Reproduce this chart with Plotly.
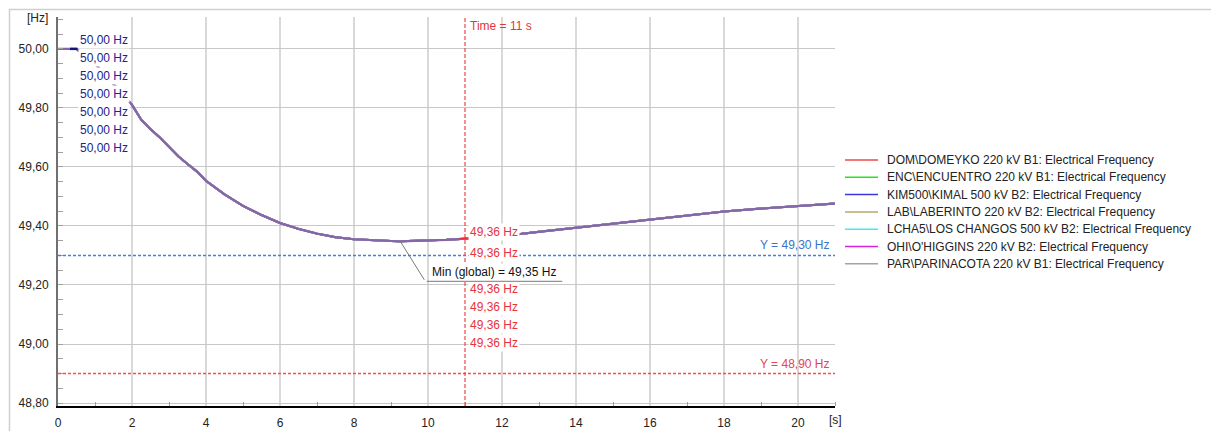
import numpy as np
import plotly.graph_objects as go

# Frequency response after the disturbance (same trace for every bus)
time_s = [0.0, 0.5, 1.0, 1.5, 2.0, 2.25, 2.5, 2.75, 3.0, 3.25, 3.5, 3.75, 4.0, 4.5,
          5.0, 5.5, 6.0, 6.5, 7.0, 7.5, 8.0, 8.5, 9.0, 9.25, 9.5, 10.0, 10.5, 11.0,
          11.5, 12.0, 12.5, 13.0, 14.0, 15.0, 16.0, 17.0, 18.0, 19.0, 20.0, 21.0]
freq_hz = [50.000, 50.000, 49.950, 49.880, 49.810, 49.760, 49.728, 49.700, 49.668,
           49.636, 49.610, 49.585, 49.553, 49.507, 49.468, 49.437, 49.410, 49.390,
           49.374, 49.362, 49.355, 49.351, 49.349, 49.348, 49.349, 49.350, 49.353,
           49.357, 49.362, 49.367, 49.373, 49.380, 49.394, 49.409, 49.423, 49.437,
           49.449, 49.459, 49.468, 49.476]

stations = [
    "DOM\\DOMEYKO 220 kV B1",
    "ENC\\ENCUENTRO 220 kV B1",
    "KIM500\\KIMAL 500 kV B2",
    "LAB\\LABERINTO 220 kV B2",
    "LCHA5\\LOS CHANGOS 500 kV B2",
    "OHI\\O'HIGGINS 220 kV B2",
    "PAR\\PARINACOTA 220 kV B1",
]
station_colors = ["#f04848", "#22e622", "#3838e0", "#b4ac6c", "#3ceef0", "#e020e0", "#a4a4a4"]
station_freq = {name: freq_hz for name in stations}

x_ticks = [0, 2, 4, 6, 8, 10, 12, 14, 16, 18, 20]
y_ticks = [48.8, 49.0, 49.2, 49.4, 49.6, 49.8, 50.0]
cursor_times = [0.0, 11.0]
limit_levels = [49.30, 48.90]

FONT = "Liberation Sans, Arial, sans-serif"
W, H = 1211, 431
ML, MR, MT, MB = 58, 376, 17, 25
X_RANGE = [0, 21]
Y_RANGE = [48.79, 50.108]
PW = W - ML - MR
PH = H - MT - MB


def fmt(v):
    return f"{v:.2f}".replace(".", ",")


def px_to_paper_x(px):
    return (px - ML) / PW


def px_to_paper_y(py):
    return (H - MB - py) / PH


sec_per_px = (X_RANGE[1] - X_RANGE[0]) / PW
hz_per_px = (Y_RANGE[1] - Y_RANGE[0]) / PH

fig = go.Figure()

for name, color in zip(stations, station_colors):
    fig.add_trace(go.Scatter(
        x=time_s, y=station_freq[name], mode="lines",
        name=f"{name}: Electrical Frequency", showlegend=False,
        line=dict(color=color, width=2),
    ))

# overlapping curves render as one blended line
fig.add_trace(go.Scatter(
    x=time_s, y=freq_hz, mode="lines", showlegend=False,
    line=dict(color="#8467a8", width=2.2), hoverinfo="skip",
))

shapes = []
annotations = []

# outer frame (top and left edges)
shapes.append(dict(type="line", xref="paper", yref="paper",
                   x0=px_to_paper_x(9), x1=px_to_paper_x(W), y0=px_to_paper_y(9.5), y1=px_to_paper_y(9.5),
                   line=dict(color="#d0d0d0", width=1.5)))
shapes.append(dict(type="line", xref="paper", yref="paper",
                   x0=px_to_paper_x(9.5), x1=px_to_paper_x(9.5), y0=px_to_paper_y(9), y1=px_to_paper_y(H),
                   line=dict(color="#d0d0d0", width=1.5)))

# legend: line sample + label per station
LEG_X0, LEG_Y0, LEG_DY = 845, 160, 17.3
for i, (name, color) in enumerate(zip(stations, station_colors)):
    yy = px_to_paper_y(LEG_Y0 + LEG_DY * i)
    shapes.append(dict(type="line", xref="paper", yref="paper",
                       x0=px_to_paper_x(LEG_X0), x1=px_to_paper_x(LEG_X0 + 33), y0=yy, y1=yy,
                       line=dict(color=color, width=1.5)))
    annotations.append(dict(x=px_to_paper_x(LEG_X0 + 40), y=yy, xref="paper", yref="paper",
                            showarrow=False, text=f"{name}: Electrical Frequency",
                            xanchor="left", yanchor="middle",
                            font=dict(family=FONT, size=12, color="#222222")))

# limit lines
limit_styles = [("#3f80e0", "#3a74c4"), ("#ff4a4a", "#e8434a")]
for level, (lc, tc) in zip(limit_levels, limit_styles):
    shapes.append(dict(type="line", xref="x", yref="y", x0=X_RANGE[0], x1=X_RANGE[1],
                       y0=level, y1=level, line=dict(color=lc, width=1.4, dash="3px,2px")))
    annotations.append(dict(x=X_RANGE[1], y=level, xref="x", yref="y", showarrow=False,
                            text=f"Y = {fmt(level)} Hz", xanchor="right", yanchor="bottom",
                            xshift=-3, yshift=1, font=dict(family=FONT, size=12, color=tc)))

# cursor at t = 11 s
t_cur = cursor_times[1]
shapes.append(dict(type="line", xref="x", yref="paper", x0=t_cur, x1=t_cur, y0=0, y1=1,
                   line=dict(color="#e84a4a", width=1.2, dash="4px,2px")))
annotations.append(dict(x=t_cur, y=1, xref="x", yref="paper", showarrow=False,
                        text=f"Time = {t_cur:g} s", xanchor="left", yanchor="top",
                        xshift=3, yshift=0, font=dict(family=FONT, size=12, color="#e8333c")))

v_cur = float(np.interp(t_cur, time_s, freq_hz))
shapes.append(dict(type="line", xref="x", yref="y",
                   x0=t_cur - 6 * sec_per_px, x1=t_cur + 7 * sec_per_px, y0=v_cur, y1=v_cur,
                   line=dict(color="#e8333c", width=1.5)))

v0 = float(np.interp(cursor_times[0], time_s, freq_hz))
shapes.append(dict(type="line", xref="x", yref="y",
                   x0=cursor_times[0] + 12 * sec_per_px, x1=cursor_times[0] + 19.5 * sec_per_px,
                   y0=v0, y1=v0, line=dict(color="#141480", width=2.4)))

# value labels at the t = 0 cursor
for i, name in enumerate(stations):
    v = float(np.interp(cursor_times[0], time_s, station_freq[name]))
    annotations.append(dict(x=cursor_times[0], y=v, xref="x", yref="y", showarrow=False,
                            text=f"{fmt(v)} Hz", xanchor="left", yanchor="middle",
                            xshift=20, yshift=9 - 18 * i, bgcolor="white", borderpad=1,
                            font=dict(family=FONT, size=12, color="#22228c")))

# value labels at the t = 11 s cursor (third one sits under the minimum box)
cur_shifts = [7, -14, None, -50, -68, -86, -104]
for name, ys in zip(stations, cur_shifts):
    if ys is None:
        continue
    v = float(np.interp(t_cur, time_s, station_freq[name]))
    annotations.append(dict(x=t_cur, y=v_cur, xref="x", yref="y", showarrow=False,
                            text=f"{fmt(v)} Hz", xanchor="left", yanchor="middle",
                            xshift=3, yshift=ys, bgcolor="white", borderpad=1,
                            font=dict(family=FONT, size=12, color="#e8333c")))

# global minimum marker
i_min = int(np.argmin(freq_hz))
t_min, v_min = time_s[i_min], freq_hz[i_min]
knee_t = t_min + 25 * sec_per_px
knee_v = v_min - 40 * hz_per_px
end_t = knee_t + 137 * sec_per_px
annotations.append(dict(x=knee_t, y=knee_v, xref="x", yref="y", showarrow=False,
                        text=f"Min (global) = {fmt(v_min)} Hz", xanchor="left", yanchor="bottom",
                        xshift=5, yshift=0.5, bgcolor="white", borderpad=1,
                        font=dict(family=FONT, size=12, color="#111111")))
annotations.append(dict(x=t_min, y=v_min, ax=knee_t, ay=knee_v, xref="x", yref="y",
                        axref="x", ayref="y", text="", showarrow=True, arrowhead=0,
                        arrowwidth=1, arrowcolor="#7a7a7a"))
annotations.append(dict(x=end_t, y=knee_v, ax=knee_t, ay=knee_v, xref="x", yref="y",
                        axref="x", ayref="y", text="", showarrow=True, arrowhead=0,
                        arrowwidth=1, arrowcolor="#7a7a7a"))

# axis unit labels
annotations.append(dict(x=px_to_paper_x(50), y=px_to_paper_y(18), xref="paper", yref="paper",
                        showarrow=False, text="[Hz]", xanchor="right", yanchor="middle",
                        font=dict(family=FONT, size=12, color="#222222")))
annotations.append(dict(x=1, y=px_to_paper_y(420), xref="paper", yref="paper",
                        showarrow=False, text="[s]", xanchor="center", yanchor="middle",
                        font=dict(family=FONT, size=12, color="#222222")))

fig.update_layout(
    width=W, height=H,
    margin=dict(l=ML, r=MR, t=MT, b=MB, autoexpand=False),
    paper_bgcolor="white", plot_bgcolor="white",
    separators=",.",
    font=dict(family=FONT, size=12, color="#222222"),
    shapes=shapes, annotations=annotations,
    showlegend=False,
)

fig.update_xaxes(
    range=X_RANGE, tickmode="array", tickvals=x_ticks, ticks="", ticklabelstandoff=5,
    automargin=False,
    showgrid=True, gridcolor="#d9d9d9", gridwidth=2,
    showline=True, linecolor="#000000", linewidth=2, zeroline=False,
    minor=dict(tickmode="linear", tick0=1, dtick=2, ticks="inside", ticklen=4,
               tickcolor="#a0a0a0", showgrid=False),
    tickfont=dict(family=FONT, size=12, color="#222222"),
)
fig.update_yaxes(
    range=Y_RANGE, tickmode="array", tickvals=y_ticks, tickformat=".2f", ticks="",
    ticklabelstandoff=5, automargin=False,
    showgrid=True, gridcolor="#c8c8c8", gridwidth=1,
    showline=True, linecolor="#707070", linewidth=2, zeroline=False,
    minor=dict(tickmode="linear", tick0=48.8, dtick=0.05, ticks="inside", ticklen=5,
               tickcolor="#a0a0a0", showgrid=False),
    tickfont=dict(family=FONT, size=12, color="#222222"),
)

fig.write_html("out.html")
